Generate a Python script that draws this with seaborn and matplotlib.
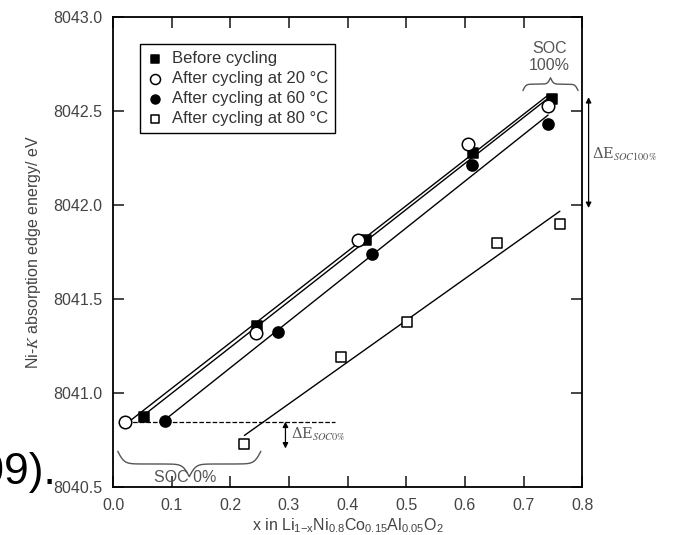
import numpy as np
import pandas as pd
import matplotlib
matplotlib.use("Agg")
import matplotlib.pyplot as plt
import seaborn as sns

# values
x_before = [0.052, 0.246, 0.431, 0.614, 0.749]
e_before = [8040.874, 8041.356, 8041.814, 8042.280, 8042.564]
x_20 = [0.021, 0.243, 0.417, 0.605, 0.741]
e_20 = [8040.847, 8041.318, 8041.817, 8042.328, 8042.527]
x_60 = [0.089, 0.281, 0.442, 0.612, 0.742]
e_60 = [8040.853, 8041.326, 8041.738, 8042.216, 8042.434]
x_80 = [0.224, 0.388, 0.501, 0.654, 0.762]
e_80 = [8040.729, 8041.190, 8041.379, 8041.800, 8041.900]
labels = ["Before cycling", "After cycling at 20 °C",
          "After cycling at 60 °C", "After cycling at 80 °C"]
xticks = [0.0, 0.1, 0.2, 0.3, 0.4, 0.5, 0.6, 0.7, 0.8]
yticks = [8040.5, 8041.0, 8041.5, 8042.0, 8042.5, 8043.0]

sns.set_theme(style="ticks")
plt.rcParams['font.family'] = ['Liberation Sans', 'DejaVu Sans']
plt.rcParams['mathtext.fontset'] = 'stix'
grey = '#555555'

fig = plt.figure(figsize=(6.73, 5.35), dpi=100)
ax = fig.add_axes([0.168, 0.0897, 0.697, 0.878])

series = [(x_before, e_before, 's', 'black', 7.5),
          (x_20, e_20, 'o', 'white', 9.0),
          (x_60, e_60, 'o', 'black', 8.0),
          (x_80, e_80, 's', 'white', 6.5)]

for (xs, es, mk, fc, ms), lab in zip(series, labels):
    df = pd.DataFrame({'x': xs, 'E': es})
    # linear fit through each series
    k, b = np.polyfit(df['x'], df['E'], 1)
    fit = pd.DataFrame({'x': [df['x'].min(), df['x'].max()]})
    fit['E'] = k * fit['x'] + b
    sns.lineplot(data=fit, x='x', y='E', ax=ax, color='black', lw=1.0, zorder=2)
    sns.scatterplot(data=df, x='x', y='E', ax=ax, marker=mk, s=ms ** 2,
                    facecolor=fc, edgecolor='black', linewidth=1.1,
                    label=lab, zorder=3)

ax.set_xlim(0.0, 0.8)
ax.set_ylim(8040.5, 8043.0)
ax.set_xticks(xticks)
ax.set_xticklabels([f"{v:.1f}" for v in xticks])
ax.set_yticks(yticks)
ax.set_yticklabels([f"{v:.1f}" for v in yticks])
ax.tick_params(direction='in', length=8, width=1.2, top=True, right=True,
               labelsize=11.5, labelcolor='#444444', pad=8)
for sp in ax.spines.values():
    sp.set_linewidth(1.3)
    sp.set_color('black')
    sp.set_visible(True)

ax.set_xlabel(r"x in Li$_{1\mathregular{-}x}$Ni$_{0.8}$Co$_{0.15}$Al$_{0.05}$O$_2$",
              fontsize=11.5, color='#444444', labelpad=2)
ax.set_ylabel(r"Ni-$\it{K}$ absorption edge energy/ eV", fontsize=11.5,
              color='#444444', labelpad=7)
plt.rcParams['mathtext.default'] = 'regular'

leg = ax.legend(loc='upper left', bbox_to_anchor=(0.04, 0.96), fontsize=12,
                frameon=True, fancybox=False, edgecolor='black',
                handletextpad=0.5, borderpad=0.4, labelspacing=0.3,
                handlelength=1.0, framealpha=1, markerscale=0.8)
leg.get_frame().set_linewidth(1.0)
for t in leg.get_texts():
    t.set_color('#333333')

# dashed reference level at SOC 0 %
ax.plot([0.022, 0.378], [8040.848, 8040.848], ls='--', color='black', lw=0.9)


def brace(ax, x1, x2, y0, h, beta=250):
    # curly brace from x1 to x2, ends at y0, tip at y0 + h
    half = np.linspace(0, (x2 - x1) / 2, 150)
    yh = 1 / (1 + np.exp(-beta * (half - half[0]))) + \
        1 / (1 + np.exp(-beta * (half - half[-1])))
    xs = np.concatenate([x1 + half, x2 - half[::-1][1:]])
    ys = np.concatenate([yh, yh[::-1][1:]])
    ax.plot(xs, y0 + h * (ys - 0.5), color=grey, lw=1.0, clip_on=False)


brace(ax, 0.008, 0.252, 8040.69, -0.135, beta=180)
brace(ax, 0.699, 0.793, 8042.61, 0.068, beta=400)
ax.text(0.123, 8040.552, "SOC 0%", ha='center', va='center', fontsize=11.5,
        color=grey)
ax.text(0.744, 8042.79, "SOC\n100%", ha='center', va='center', fontsize=11.5,
        color=grey, linespacing=1.15)

arrow = dict(arrowstyle='<|-|>', color='black', lw=0.9, mutation_scale=8,
             shrinkA=0, shrinkB=0)
ax.annotate('', xy=(0.294, 8040.848), xytext=(0.294, 8040.705),
            arrowprops=arrow)
ax.text(0.303, 8040.778, r"$\Delta$E$_{\it SOC0\%}$", fontsize=10.5,
        color=grey, va='center', family='serif')
ax.annotate('', xy=(0.811, 8042.575), xytext=(0.811, 8041.985),
            arrowprops=arrow, annotation_clip=False)
ax.text(0.816, 8042.27, r"$\Delta$E$_{\it SOC100\%}$", fontsize=10.5,
        color=grey, va='center', family='serif')

# text of the surrounding page that shows at the left edge
fig.text(0.083, 0.095, "(2009).", ha='right', va='baseline', fontsize=32,
         color='black')

fig.savefig("out.png", dpi=100)
